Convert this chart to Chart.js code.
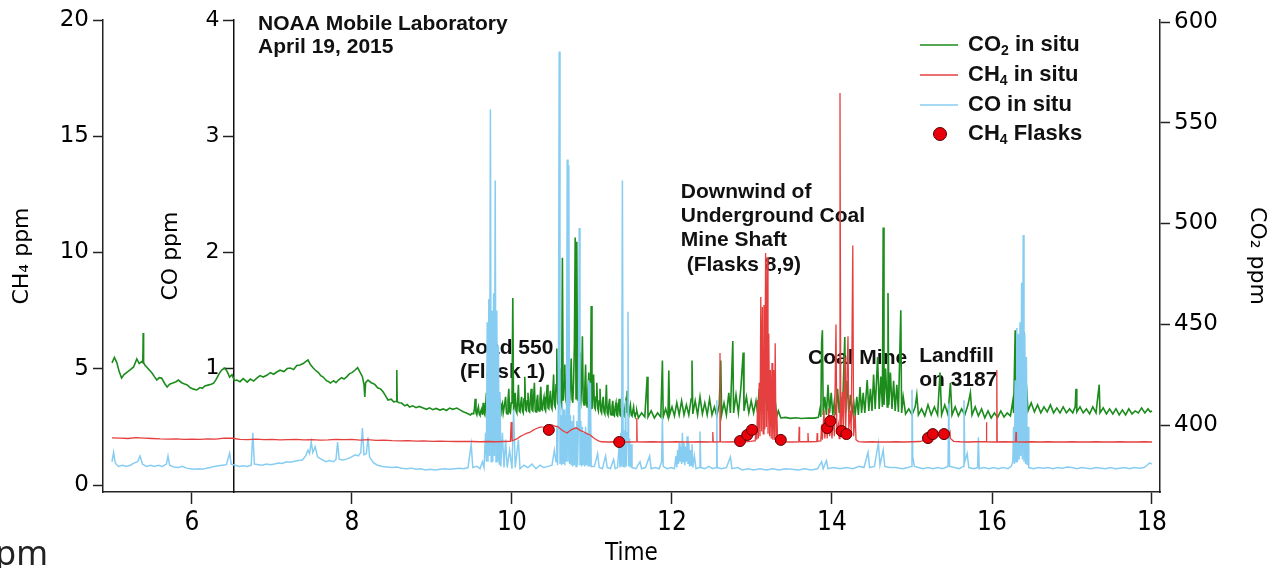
<!DOCTYPE html>
<html>
<head>
<meta charset="utf-8">
<script src="https://cdn.jsdelivr.net/npm/chart.js@4.4.1/dist/chart.umd.min.js"></script>
<style>
  html, body { margin: 0; padding: 0; background: #fff; }
  canvas { display: block; }
</style>
</head>
<body>
<canvas id="gasChart" width="1278" height="568"></canvas>
<script>
// tick labels
const timeTicks = [6, 8, 10, 12, 14, 16, 18];
const ch4Ticks = [0, 5, 10, 15, 20];
const coTicks = [1, 2, 3, 4];
const co2Ticks = [400, 450, 500, 550, 600];

// [time (h), ppm]
const co2InSitu = [
  [5.00,430.8],[5.03,433.5],[5.06,431.0],[5.09,426.5],[5.12,423.3],[5.15,425.0],[5.19,426.3],[5.23,427.5],[5.27,428.8],[5.31,432.8],
  [5.34,430.5],[5.37,431.5],[5.385,431.0],[5.39,445.7],[5.395,431.0],[5.41,429.8],[5.45,428.0],[5.50,425.8],[5.53,424.0],[5.56,422.3],
  [5.59,423.5],[5.62,423.3],[5.66,420.5],[5.69,418.9],[5.72,420.2],[5.76,420.8],[5.80,421.5],[5.83,422.3],[5.87,421.0],[5.90,420.5],
  [5.94,419.9],[5.98,418.5],[6.02,417.8],[6.06,417.4],[6.10,418.6],[6.13,418.2],[6.16,419.4],[6.20,419.8],[6.24,420.2],[6.27,420.8],
  [6.30,422.5],[6.34,425.5],[6.37,427.3],[6.41,428.3],[6.44,426.5],[6.47,423.8],[6.50,425.0],[6.53,422.0],[6.56,422.3],[6.60,421.5],
  [6.64,423.0],[6.69,421.3],[6.73,422.8],[6.77,421.8],[6.81,423.3],[6.85,424.5],[6.89,423.8],[6.94,424.8],[6.98,426.0],[7.02,425.2],
  [7.06,426.3],[7.10,427.2],[7.15,426.5],[7.19,428.0],[7.23,428.3],[7.27,427.5],[7.31,429.5],[7.35,429.8],[7.39,430.5],[7.42,431.5],
  [7.45,432.3],[7.48,430.0],[7.51,428.5],[7.54,427.3],[7.58,426.0],[7.61,424.5],[7.64,423.8],[7.68,422.0],[7.71,421.5],[7.73,420.8],
  [7.77,422.0],[7.80,421.0],[7.83,422.3],[7.87,423.5],[7.90,422.8],[7.93,423.8],[7.97,425.5],[8.00,426.0],[8.04,427.3],[8.07,428.5],
  [8.10,426.3],[8.13,424.0],[8.15,420.0],[8.16,413.9],[8.17,421.0],[8.20,422.3],[8.24,421.0],[8.27,420.5],[8.29,419.9],[8.32,418.5],
  [8.36,417.8],[8.39,416.4],[8.42,414.5],[8.45,412.4],[8.49,412.8],[8.52,411.5],[8.555,411.8],[8.56,427.3],[8.565,411.5],[8.59,411.0],
  [8.62,410.9],[8.66,409.5],[8.69,410.2],[8.72,408.9],[8.76,409.5],[8.80,408.6],[8.84,409.2],[8.89,408.4],[8.93,407.8],[8.97,408.5],
  [9.01,407.6],[9.05,408.2],[9.10,407.4],[9.14,408.0],[9.18,407.2],[9.22,408.4],[9.26,407.8],[9.31,408.4],[9.35,407.5],[9.39,406.6],
  [9.43,406.0],[9.48,405.0],[9.50,405.8],
  [9.52,405.5],[9.53,408],[9.54,413],[9.55,406],[9.56,405],[9.57,407.5],[9.58,409],[9.59,405.5],[9.60,404.8],[9.61,407],
  [9.62,408],[9.63,405],[9.64,411],[9.65,406],[9.66,405],[9.67,409],[9.68,416],[9.69,406],[9.70,405.5],[9.71,409],
  [9.72,410],[9.73,405],[9.74,404.5],[9.75,408],[9.76,412],[9.77,405.5],[9.78,405],[9.79,410],[9.80,409],[9.81,405],
  [9.82,404.5],[9.83,409],[9.84,413],[9.85,405.5],[9.86,405],[9.87,410],[9.88,411],[9.89,406],[9.90,406],[9.91,411],
  [9.92,414],[9.93,406],[9.94,405.5],[9.95,412],[9.96,418],[9.97,406.5],[9.98,406],[9.99,411],[10.00,412],[10.01,463],
  [10.02,407],[10.03,410],[10.04,416],[10.05,407],[10.06,406],[10.07,412],[10.08,420],[10.09,407],[10.10,406.5],[10.11,411],
  [10.12,414],[10.13,407],[10.14,406],[10.15,413],[10.16,424],[10.17,407.5],[10.18,407],[10.19,412],[10.20,416],[10.21,407],
  [10.22,406.5],[10.23,413],[10.24,418],[10.25,407.5],[10.26,407],[10.27,414],[10.28,421],[10.29,407],[10.30,406.5],[10.31,412],
  [10.32,415],[10.33,407.5],[10.34,407],[10.35,413],[10.36,419],[10.37,408],[10.38,407.5],[10.39,412],[10.40,414],[10.41,408],
  [10.42,407],[10.43,414],[10.44,420],[10.45,408.5],[10.46,408],[10.47,413],[10.48,417],[10.49,409],[10.50,408],[10.51,416],
  [10.52,425],[10.53,410],[10.54,409],[10.55,420],[10.56,438],[10.57,411],[10.58,410],[10.59,419],[10.60,428],[10.61,412],
  [10.62,410],[10.63,483],[10.64,412],[10.65,421],[10.66,430],[10.67,413],[10.68,411],[10.69,424],[10.70,448],[10.71,414],
  [10.72,412],[10.73,420],[10.74,433],[10.75,413],[10.76,411],[10.77,422],[10.78,440],[10.79,493],[10.80,413],[10.81,491],
  [10.82,412],[10.83,421],[10.84,436],[10.85,413],[10.86,411],[10.87,420],[10.88,444],[10.89,412],[10.90,410],[10.91,418],
  [10.92,430],[10.93,411],[10.94,409],[10.95,417],[10.96,426],[10.97,410],[10.98,409],[10.99,459],[11.00,408],[11.01,415],
  [11.02,425],[11.03,409],[11.04,408],[11.05,414],[11.06,421],[11.07,408.5],[11.08,407],[11.09,412],[11.10,418],[11.11,407],
  [11.12,406],[11.13,411],[11.14,414],[11.15,406.5],[11.16,405.5],[11.17,410],[11.18,420],[11.19,406],[11.20,405],[11.21,410],
  [11.22,413],[11.23,405.5],[11.24,405],[11.25,409],[11.26,412],[11.27,405],[11.28,404.5],[11.29,409],[11.30,411],[11.31,405],
  [11.32,404.5],[11.33,409],[11.34,413],[11.35,405],[11.36,404.5],[11.37,408],[11.38,410],[11.39,405],[11.40,404.5],[11.41,408],
  [11.42,411],[11.43,406],[11.44,417],[11.45,405],[11.46,404.5],[11.47,408],[11.48,410],[11.49,405],[11.50,404.5],[11.51,407],
  [11.52,409],[11.53,405],[11.54,404],[11.55,406],[11.56,407],
  [11.58,403.5],[11.62,406],[11.66,404],[11.69,424],[11.70,404],[11.74,407],[11.78,403.5],[11.82,406],[11.86,404],[11.88,432],
  [11.89,404],[11.92,408],[11.95,404],[11.96,427],[11.97,405],[12.00,409],[12.03,404.5],[12.06,411],[12.09,405],[12.12,412],
  [12.15,405],[12.18,410],[12.21,405],[12.24,413],[12.25,432],[12.26,405.5],[12.29,412],[12.32,405],[12.35,414],[12.38,405.5],
  [12.41,411],[12.44,405],[12.47,413],[12.50,405],[12.53,409],[12.56,404.5],[12.59,410],[12.61,432],[12.62,405],[12.65,411],
  [12.68,405],[12.71,416],[12.73,406],[12.76,441.7],[12.77,406],[12.80,415],[12.83,406],[12.86,418],[12.89,436],[12.90,407],
  [12.93,414],[12.96,406],[12.99,412],[13.02,406],
  [13.05,412],[13.07,406],[13.09,418],[13.11,407],[13.13,425.8],[13.15,408],[13.17,420],[13.19,407],[13.21,416],[13.23,406],
  [13.25,414],[13.27,405],[13.29,412],[13.31,404.5],[13.33,407],[13.36,403.5],[13.42,403.8],[13.48,403.3],[13.55,403.6],[13.62,403.2],
  [13.70,403.5],[13.78,403.4],[13.83,403.8],
  [13.85,408],[13.86,404],[13.87,440.7],[13.88,447],[13.89,405],[13.91,414],[13.93,405],[13.95,420],[13.97,406],[13.99,416],
  [14.01,405],[14.03,412],[14.05,405],[14.07,418],[14.09,406],[14.11,414],[14.13,405.5],[14.16,443.7],[14.17,406],[14.19,422],
  [14.21,406],[14.23,415],[14.25,405.5],[14.27,412],[14.29,405],[14.31,414],[14.33,405],[14.35,418.9],[14.37,406],[14.39,416],
  [14.41,406],[14.44,422.3],[14.46,407],[14.48,418],[14.50,407],[14.52,425],[14.54,408],[14.57,433.7],[14.59,408],[14.61,424],
  [14.63,409],[14.64,498],[14.65,410],[14.67,428],[14.69,409],[14.70,465.5],[14.71,410],[14.73,426],[14.75,408],[14.77,422],
  [14.79,407],[14.81,420],[14.83,406.5],[14.86,457],[14.87,406],[14.89,414],[14.92,405.5],
  [14.96,408],[15.00,405],[15.04,409],[15.06,415],[15.08,405],[15.12,408],[15.16,404.5],[15.20,410],[15.24,405],[15.28,409],
  [15.32,405],[15.35,426],[15.37,405],[15.41,410],[15.45,405],[15.48,421],[15.50,405],[15.54,409],[15.58,404.5],[15.62,408],
  [15.66,405],[15.70,410],[15.73,416],[15.75,405],[15.79,409],[15.83,404.5],[15.87,408],[15.91,403.5],[15.95,407],[15.99,403.5],
  [16.03,406],[16.07,403.8],[16.11,407],[16.15,404],[16.19,406],[16.23,404.5],
  [16.26,412],[16.27,406],[16.29,447],[16.30,408],[16.32,425],[16.34,407],[16.36,418],[16.38,409],[16.40,446],[16.41,408],
  [16.43,420],[16.45,407],
  [16.49,411],[16.53,406.5],[16.57,410],[16.61,406],[16.65,409],[16.69,406.5],[16.73,410],[16.77,406],[16.81,408.5],[16.85,406],
  [16.89,409],[16.93,406],[16.97,408],[17.01,406],[17.04,409],[17.05,418],[17.06,406.5],[17.10,409],[17.14,406],[17.18,408],
  [17.22,405.5],[17.26,409],[17.30,406],[17.34,420],[17.35,406],[17.39,408.5],[17.43,405.5],[17.47,408],[17.51,405.5],[17.55,408],
  [17.59,405],[17.63,407.5],[17.67,405],[17.71,408],[17.75,405.5],[17.79,407],[17.83,406],[17.87,408.5],[17.91,406],[17.95,408],
  [17.98,406.5],[18.00,407]
];

const ch4InSitu = [
  [5.00,2.03],[5.10,2.02],[5.20,2.00],[5.30,2.04],[5.40,2.02],[5.50,2.00],[5.60,1.98],[5.70,1.97],[5.80,1.98],[5.90,1.96],
  [6.00,1.97],[6.10,1.96],[6.20,1.98],[6.30,1.97],[6.40,2.02],[6.50,2.01],[6.60,1.96],[6.70,1.95],[6.80,1.97],[6.90,1.95],
  [7.00,1.96],[7.10,1.94],[7.20,1.95],[7.30,1.96],[7.40,1.94],[7.50,1.95],[7.60,1.93],[7.70,1.94],[7.80,1.96],[7.90,1.95],
  [8.00,1.96],[8.10,1.93],[8.20,1.95],[8.30,1.92],[8.40,1.93],[8.50,1.91],[8.60,1.90],[8.70,1.91],[8.80,1.89],[8.90,1.90],
  [9.00,1.88],[9.10,1.89],[9.20,1.88],[9.30,1.87],[9.40,1.88],[9.50,1.87],[9.60,1.86],[9.70,1.87],[9.80,1.86],[9.90,1.87],
  [9.98,1.88],[9.99,2.71],[10.00,1.90],[10.06,1.98],[10.10,2.08],[10.14,2.15],[10.18,2.22],[10.22,2.26],[10.26,2.35],[10.30,2.42],
  [10.35,2.49],[10.40,2.50],[10.45,2.55],[10.50,2.58],[10.54,2.52],[10.57,2.52],[10.61,2.40],[10.65,2.30],[10.69,2.24],[10.73,2.35],
  [10.77,2.42],[10.81,2.45],[10.85,2.35],[10.90,2.28],[10.94,2.20],[10.98,2.15],[11.01,2.05],[11.04,1.98],[11.08,1.90],[11.12,1.86],
  [11.20,1.85],[11.30,1.86],[11.40,1.85],[11.50,1.85],[11.555,1.86],[11.56,2.88],[11.565,1.86],[11.65,1.85],[11.75,1.86],[11.85,1.85],
  [11.95,1.85],[12.05,1.86],[12.15,1.85],[12.25,1.85],[12.35,1.86],[12.45,1.85],[12.505,1.86],[12.51,2.28],[12.515,1.85],[12.595,1.86],
  [12.60,5.68],[12.605,1.86],[12.70,1.85],[12.80,1.86],[12.90,1.86],[12.98,1.88],[13.02,1.90],
  [13.04,1.90],[13.05,2.5],[13.06,1.95],[13.07,3.66],[13.08,2.0],[13.09,4.4],[13.10,2.1],[13.11,8.09],[13.12,2.3],[13.13,7.66],
  [13.14,2.2],[13.15,7.74],[13.16,2.4],[13.17,9.98],[13.18,2.5],[13.19,9.8],[13.20,2.2],[13.21,6.5],[13.22,2.1],[13.23,4.95],
  [13.24,2.0],[13.25,5.25],[13.26,1.95],[13.27,4.95],[13.28,1.95],[13.29,6.1],[13.30,1.9],[13.31,3.2],[13.32,1.88],
  [13.40,1.86],[13.50,1.85],[13.585,1.86],[13.59,2.5],[13.595,1.86],[13.695,1.86],[13.70,2.24],[13.705,1.86],[13.81,1.87],[13.815,2.24],
  [13.82,1.88],[13.86,1.90],[13.87,2.6],[13.88,1.95],[13.90,3.2],[13.91,2.0],[13.93,2.7],[13.94,2.0],[13.96,3.3],[13.97,2.1],
  [13.99,2.5],[14.00,2.0],[14.02,3.0],[14.03,2.1],[14.05,6.9],[14.06,2.2],[14.08,2.6],[14.09,2.0],[14.10,16.86],[14.11,2.1],
  [14.13,4.0],[14.14,2.2],[14.16,5.5],[14.17,2.3],[14.20,6.4],[14.21,2.4],[14.23,3.2],[14.24,2.2],[14.26,10.3],[14.27,2.1],
  [14.29,3.0],[14.30,1.95],[14.33,1.87],[14.40,1.85],[14.50,1.86],[14.60,1.85],[14.70,1.85],[14.80,1.86],[14.90,1.85],[15.00,1.86],
  [15.10,1.87],[15.15,1.92],[15.20,2.05],[15.25,2.15],[15.30,2.12],[15.35,2.18],[15.40,2.15],[15.44,2.05],[15.475,2.28],[15.48,2.0],
  [15.52,1.88],[15.60,1.86],[15.70,1.85],[15.80,1.86],[15.925,1.86],[15.93,2.7],[15.935,1.86],[16.00,1.85],[16.055,1.85],[16.06,4.95],
  [16.065,1.85],[16.15,1.86],[16.25,1.85],[16.295,1.86],[16.30,2.28],[16.305,1.86],[16.40,1.85],[16.50,1.86],[16.60,1.85],[16.70,1.86],
  [16.80,1.85],[16.90,1.85],[17.00,1.86],[17.10,1.85],[17.20,1.85],[17.30,1.86],[17.40,1.85],[17.50,1.85],[17.60,1.86],[17.70,1.85],
  [17.80,1.85],[17.90,1.86],[18.00,1.85]
];

const coInSitu = [
  [5.00,0.20],[5.02,0.28],[5.04,0.19],[5.08,0.16],[5.13,0.17],[5.18,0.16],[5.23,0.17],[5.28,0.19],[5.32,0.20],[5.35,0.25],
  [5.38,0.18],[5.43,0.16],[5.48,0.17],[5.53,0.16],[5.58,0.17],[5.63,0.16],[5.68,0.18],[5.70,0.25],[5.72,0.17],[5.77,0.155],
  [5.83,0.15],[5.88,0.16],[5.93,0.145],[5.98,0.14],[6.03,0.135],[6.08,0.14],[6.13,0.135],[6.18,0.145],[6.23,0.15],[6.28,0.16],
  [6.33,0.165],[6.38,0.17],[6.43,0.175],[6.47,0.275],[6.49,0.18],[6.54,0.17],[6.59,0.16],[6.64,0.165],[6.69,0.16],[6.74,0.17],
  [6.76,0.45],[6.78,0.18],[6.83,0.175],[6.88,0.17],[6.93,0.18],[6.98,0.175],[7.03,0.18],[7.08,0.19],[7.13,0.185],[7.18,0.20],
  [7.23,0.195],[7.28,0.205],[7.33,0.21],[7.38,0.215],[7.42,0.25],[7.45,0.30],[7.47,0.27],[7.49,0.37],[7.51,0.28],[7.54,0.33],
  [7.57,0.24],[7.62,0.22],[7.67,0.20],[7.72,0.21],[7.77,0.20],[7.80,0.22],[7.82,0.37],[7.84,0.22],[7.89,0.215],[7.94,0.225],
  [7.99,0.24],[8.04,0.26],[8.08,0.25],[8.11,0.28],[8.13,0.49],[8.15,0.26],[8.18,0.27],[8.20,0.41],[8.22,0.24],[8.27,0.19],
  [8.32,0.17],[8.38,0.16],[8.44,0.155],[8.50,0.15],[8.56,0.155],[8.62,0.145],[8.68,0.14],[8.74,0.145],[8.80,0.135],[8.86,0.14],
  [8.92,0.13],[8.98,0.135],[9.04,0.13],[9.10,0.135],[9.16,0.14],[9.22,0.135],[9.28,0.14],[9.34,0.145],[9.40,0.14],[9.45,0.15],
  [9.49,0.35],[9.51,0.15],[9.56,0.16],[9.60,0.14],[9.63,0.20],[9.65,0.15],[9.67,0.45],
  [9.68,0.20],[9.69,1.40],[9.70,0.20],[9.71,1.60],[9.72,0.25],[9.73,3.23],[9.74,0.20],[9.75,1.50],[9.76,0.20],[9.77,1.65],
  [9.78,0.25],[9.79,2.62],[9.80,0.20],[9.81,1.50],[9.82,0.20],[9.83,1.20],[9.84,0.18],[9.85,0.80],[9.86,0.16],
  [9.88,0.45],[9.90,0.15],[9.92,0.39],[9.94,0.15],[9.97,0.30],[10.00,0.14],[10.02,0.65],[10.04,0.15],[10.08,0.39],[10.10,0.14],
  [10.15,0.17],[10.20,0.15],[10.25,0.18],[10.30,0.14],[10.35,0.17],[10.40,0.15],[10.45,0.16],[10.50,0.17],[10.53,0.30],[10.55,0.20],
  [10.56,0.50],[10.57,0.17],[10.58,0.73],[10.59,3.73],[10.60,0.18],[10.61,0.60],[10.62,0.17],[10.63,0.70],[10.64,0.18],[10.65,0.65],
  [10.66,0.17],[10.67,0.60],[10.68,0.20],[10.69,2.80],[10.70,0.20],[10.71,2.75],[10.72,0.18],[10.73,0.60],[10.74,0.17],[10.75,0.55],
  [10.76,0.16],[10.77,0.60],[10.78,0.17],[10.79,0.50],[10.80,0.16],[10.81,0.55],[10.82,0.17],[10.83,0.50],[10.84,2.21],[10.85,0.17],
  [10.86,0.55],[10.87,0.16],[10.88,0.50],[10.89,0.17],[10.90,0.45],[10.91,0.16],[10.92,0.50],[10.93,0.17],[10.94,0.45],[10.95,0.16],
  [10.96,0.90],[10.97,0.16],[10.98,0.88],[10.99,0.16],
  [11.03,0.16],[11.07,0.27],[11.09,0.15],[11.13,0.14],[11.17,0.25],[11.19,0.15],[11.23,0.14],[11.27,0.22],[11.29,0.14],[11.32,0.15],
  [11.34,0.35],[11.35,0.15],[11.36,0.45],[11.37,0.16],[11.38,2.62],[11.39,0.16],[11.40,0.47],[11.41,0.15],[11.42,0.73],[11.43,0.16],
  [11.44,0.45],[11.45,1.49],[11.46,0.16],[11.47,0.40],[11.48,0.15],[11.49,0.35],[11.50,0.15],
  [11.55,0.14],[11.60,0.20],[11.62,0.14],[11.67,0.15],[11.72,0.25],[11.74,0.14],[11.79,0.15],[11.84,0.14],[11.87,0.20],[11.88,0.58],
  [11.89,0.16],[11.94,0.14],[11.99,0.15],[12.03,0.14],
  [12.05,0.25],[12.06,0.15],[12.07,0.30],[12.08,0.18],[12.09,0.36],[12.10,0.20],[12.11,0.33],[12.12,0.18],[12.13,0.45],[12.14,0.20],
  [12.15,0.36],[12.16,0.17],[12.17,0.33],[12.18,0.20],[12.19,0.42],[12.20,0.18],[12.21,0.36],[12.22,0.16],[12.23,0.30],[12.24,0.17],
  [12.25,0.35],[12.26,0.15],[12.28,0.25],[12.30,0.14],
  [12.34,0.15],[12.35,0.46],[12.36,0.15],[12.41,0.14],[12.46,0.16],[12.51,0.14],[12.555,0.15],[12.56,0.73],[12.565,0.15],[12.62,0.14],
  [12.68,0.15],[12.73,0.24],[12.75,0.14],[12.82,0.15],[12.88,0.13],[12.95,0.14],[13.02,0.13],[13.10,0.14],[13.18,0.13],[13.26,0.14],
  [13.34,0.13],[13.42,0.14],[13.50,0.135],[13.58,0.13],[13.66,0.14],[13.74,0.13],[13.82,0.14],[13.87,0.20],[13.89,0.14],[13.93,0.21],
  [13.95,0.14],[14.02,0.15],[14.10,0.14],[14.18,0.15],[14.26,0.14],[14.34,0.16],[14.40,0.15],[14.45,0.28],[14.47,0.15],[14.53,0.16],
  [14.58,0.36],[14.60,0.17],[14.64,0.30],[14.66,0.16],[14.72,0.15],[14.80,0.15],[14.88,0.14],[14.95,0.15],[14.99,0.16],[15.00,0.82],
  [15.01,0.24],[15.03,0.16],[15.08,0.15],[15.14,0.14],[15.20,0.15],[15.26,0.14],[15.32,0.15],[15.38,0.14],[15.45,0.16],[15.46,0.70],
  [15.47,0.16],[15.53,0.15],[15.59,0.14],[15.64,0.16],[15.65,0.73],[15.66,0.20],[15.69,0.27],[15.71,0.15],[15.77,0.14],[15.82,0.15],
  [15.83,0.41],[15.84,0.14],[15.90,0.15],[15.96,0.14],[16.02,0.15],[16.08,0.14],[16.14,0.15],[16.20,0.14],[16.24,0.16],
  [16.26,0.20],[16.27,0.50],[16.28,0.18],[16.29,0.90],[16.30,0.20],[16.31,1.35],[16.32,0.20],[16.33,1.30],[16.34,0.22],[16.35,1.40],
  [16.36,0.25],[16.37,1.74],[16.38,0.22],[16.39,2.15],[16.40,0.20],[16.41,1.30],[16.42,0.18],[16.43,1.10],[16.44,0.17],[16.45,0.50],
  [16.46,0.15],[16.52,0.14],[16.58,0.15],[16.64,0.145],[16.70,0.15],[16.76,0.14],[16.82,0.15],[16.88,0.145],[16.94,0.155],[17.00,0.15],
  [17.06,0.14],[17.12,0.15],[17.18,0.145],[17.24,0.14],[17.30,0.15],[17.36,0.145],[17.42,0.14],[17.48,0.15],[17.54,0.14],[17.60,0.145],
  [17.66,0.15],[17.72,0.14],[17.78,0.15],[17.84,0.145],[17.90,0.15],[17.94,0.17],[17.97,0.19],[18.00,0.18]
];

const ch4Flasks = [
  [10.46,2.37],[11.34,1.85],[12.85,1.89],[12.94,2.15],[13.00,2.37],[13.36,1.94],[13.94,2.45],
  [13.98,2.75],[14.12,2.32],[14.18,2.19],[15.20,2.02],[15.26,2.19],[15.40,2.19]
];

const green = "#1c8c1c";
const red = "#e5403f";
const blue = "#87cdf2";
const tickFont = "'DejaVu Sans', sans-serif";
const narrowFont = "'Liberation Sans Narrow', 'DejaVu Sans Condensed', sans-serif";
const boldFont = "'Liberation Sans', Arial, sans-serif";

function toPoints(rows) {
  return rows.map((r) => ({ x: r[0], y: r[1] }));
}

function fixedTicks(values) {
  return function (scale) {
    scale.ticks = values.map((v) => ({ value: v }));
  };
}

// text with subscripts: parts = [[text, isSub], ...]
function richText(ctx, parts, x, y, size) {
  parts.forEach((p) => {
    var sub = p[1];
    ctx.font = "bold " + (sub ? Math.round(size * 0.65) : size) + "px " + boldFont;
    ctx.fillText(p[0], x, sub ? y + size * 0.3 : y);
    x += ctx.measureText(p[0]).width;
  });
}

var figureExtras = {
  id: "figureExtras",
  beforeDatasetsDraw(chart) {
    var ctx = chart.ctx;
    var x = chart.scales.x;
    var y = chart.scales.y;
    var notes = [
      ["NOAA Mobile Laboratory", 6.825, 19.83],
      ["April 19, 2015", 6.825, 18.84],
      ["Road 550", 9.35, 5.89],
      ["(Flask 1)", 9.35, 4.86],
      ["Downwind of", 12.11, 12.6],
      ["Underground Coal", 12.11, 11.57],
      ["Mine Shaft", 12.11, 10.54],
      [" (Flasks 8,9)", 12.11, 9.46],
      ["Coal Mine", 13.7, 5.46],
      ["Landfill", 15.09, 5.55],
      ["on 3187", 15.09, 4.52],
    ];
    ctx.save();
    ctx.fillStyle = "#111";
    ctx.font = "bold 21px " + boldFont;
    ctx.textBaseline = "middle";
    notes.forEach((n) => ctx.fillText(n[0], x.getPixelForValue(n[1]), y.getPixelForValue(n[2])));
    ctx.restore();
  },
  afterDatasetsDraw(chart) {
    var ctx = chart.ctx;
    var area = chart.chartArea;
    var coScale = chart.scales.yCO;
    var axisX = chart.scales.x.getPixelForValue(6.52);

    ctx.save();
    // CO axis labels + title
    ctx.fillStyle = "#000";
    ctx.font = "22px " + tickFont;
    ctx.textAlign = "right";
    ctx.textBaseline = "middle";
    coTicks.forEach((v) => ctx.fillText(String(v), axisX - 14, coScale.getPixelForValue(v)));
    ctx.save();
    ctx.translate(axisX - 62, (area.top + area.bottom) / 2);
    ctx.rotate(-Math.PI / 2);
    ctx.textAlign = "center";
    ctx.fillText("CO ppm", 0, 0);
    ctx.restore();

    // legend
    var rows = [
      { parts: [["CO", 0], ["2", 1], [" in situ", 0]], color: green, y: 45 },
      { parts: [["CH", 0], ["4", 1], [" in situ", 0]], color: red, y: 75 },
      { parts: [["CO in situ", 0]], color: blue, y: 105 },
      { parts: [["CH", 0], ["4", 1], [" Flasks", 0]], color: null, y: 134 },
    ];
    ctx.textAlign = "left";
    rows.forEach((r) => {
      if (r.color) {
        ctx.strokeStyle = r.color;
        ctx.lineWidth = 1.5;
        ctx.beginPath();
        ctx.moveTo(920, r.y);
        ctx.lineTo(958, r.y);
        ctx.stroke();
      } else {
        ctx.fillStyle = "#e8000b";
        ctx.strokeStyle = "#5a0000";
        ctx.lineWidth = 1;
        ctx.beginPath();
        ctx.arc(940, r.y, 6.5, 0, Math.PI * 2);
        ctx.fill();
        ctx.stroke();
      }
      ctx.fillStyle = "#111";
      richText(ctx, r.parts, 968, r.y, 22);
    });

    // stray label cut off at the bottom-left corner
    ctx.fillStyle = "#222";
    ctx.font = "34px 'Noto Sans', sans-serif";
    ctx.textAlign = "right";
    ctx.textBaseline = "alphabetic";
    ctx.fillText("ppm", 48, 565);
    ctx.restore();
  },
};

var ctx = document.getElementById("gasChart").getContext("2d");

var chart = new Chart(ctx, {
  type: "line",
  data: {
    datasets: [
      {
        label: "CH4 Flasks",
        data: toPoints(ch4Flasks),
        yAxisID: "y",
        showLine: false,
        pointRadius: 5.5,
        pointBackgroundColor: "#e8000b",
        pointBorderColor: "#5a0000",
        pointBorderWidth: 1,
        order: 0,
      },
      {
        label: "CH4 in situ",
        data: toPoints(ch4InSitu),
        yAxisID: "y",
        borderColor: red,
        borderWidth: 1.3,
        pointRadius: 0,
        order: 1,
      },
      {
        label: "CO in situ",
        data: toPoints(coInSitu),
        yAxisID: "yCO",
        borderColor: blue,
        borderWidth: 1.5,
        pointRadius: 0,
        order: 2,
      },
      {
        label: "CO2 in situ",
        data: toPoints(co2InSitu),
        yAxisID: "yCO2",
        borderColor: green,
        borderWidth: 1.6,
        pointRadius: 0,
        order: 3,
      },
    ],
  },
  options: {
    responsive: false,
    animation: false,
    events: [],
    layout: { padding: { top: 20, left: 0, right: 0, bottom: 0 } },
    elements: { line: { tension: 0 } },
    plugins: {
      legend: { display: false },
      tooltip: { enabled: false },
    },
    scales: {
      x: {
        type: "linear",
        position: "bottom",
        min: 4.8875,
        max: 18.1,
        afterBuildTicks: fixedTicks(timeTicks),
        afterFit: (s) => { s.height = 76; },
        ticks: { font: { family: narrowFont, size: 26 }, color: "#000", padding: 4, maxRotation: 0, autoSkip: false },
        grid: { drawOnChartArea: false, tickLength: 12, tickColor: "#222", tickWidth: 1.5 },
        border: { color: "#222", width: 1.5 },
        title: { display: true, text: "Time", color: "#000", font: { family: narrowFont, size: 24 }, padding: { top: 0, bottom: 0 } },
      },
      y: {
        type: "linear",
        position: "left",
        min: -0.301,
        max: 20,
        afterBuildTicks: fixedTicks(ch4Ticks),
        afterFit: (s) => { s.width = 103; },
        ticks: { font: { family: tickFont, size: 23 }, color: "#000", padding: 4 },
        grid: { drawOnChartArea: false, tickLength: 10, tickColor: "#222", tickWidth: 1.5 },
        border: { color: "#222", width: 1.5 },
        title: { display: true, text: "CH\u2084 ppm", color: "#000", font: { family: tickFont, size: 22 }, padding: { top: 9, bottom: 0 } },
      },
      yCO: {
        type: "linear",
        position: { x: 6.52 },
        min: -0.0602,
        max: 4,
        afterBuildTicks: fixedTicks(coTicks),
        ticks: { display: false },
        grid: { drawOnChartArea: false, tickLength: 10, tickColor: "#222", tickWidth: 1.5 },
        border: { color: "#111", width: 1.5 },
      },
      yCO2: {
        type: "linear",
        position: "right",
        min: 366.75,
        max: 601,
        afterBuildTicks: fixedTicks(co2Ticks),
        afterFit: (s) => { s.width = 118; },
        ticks: { font: { family: tickFont, size: 23 }, color: "#000", padding: 4 },
        grid: { drawOnChartArea: false, tickLength: 10, tickColor: "#222", tickWidth: 1.5 },
        border: { color: "#222", width: 1.5 },
        title: { display: true, text: "CO\u2082 ppm", color: "#000", font: { family: tickFont, size: 22 }, padding: { top: 8, bottom: 0 } },
      },
    },
  },
  plugins: [figureExtras],
});
</script>
</body>
</html>
